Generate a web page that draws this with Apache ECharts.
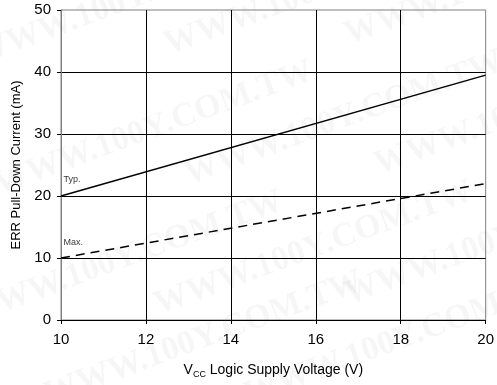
<!DOCTYPE html>
<html><head><meta charset="utf-8">
<script src="https://cdn.jsdelivr.net/npm/echarts@6/dist/echarts.min.js"></script>
<style>html,body{margin:0;padding:0;background:#fff}#c{width:497px;height:385px}</style>
</head><body><div id="c"></div>
<script>
const vcc = [10, 20];
const typCurrent = [20, 39.5];
const maxCurrent = [10, 22];
const xTicks = [10, 12, 14, 16, 18, 20];
const yTicks = [0, 10, 20, 30, 40, 50];
const curveLabels = ['Typ.', 'Max.'];

const chart = echarts.init(document.getElementById('c'), null, {renderer: 'canvas'});
const font = 'Liberation Sans, Arial, sans-serif';
const wm = [];
const wmPos = [[-30,40],[160,30],[340,20],[-10,170],[180,160],[370,150],[-40,300],[150,290],[340,280],[40,380],[240,380]];
wmPos.forEach(p => wm.push({type:'text', x:p[0], y:p[1], rotation: 0.35, silent:true, z:-1,
  style:{text:'WWW.100Y.COM.TW', fill:'rgba(0,0,0,0.035)', font:'bold 34px "Liberation Serif", serif'}}));

function labelPoint(x, y, text, dy) {
  return {type: 'scatter', data: [[x, y]], symbol: 'circle', symbolSize: 1,
    itemStyle: {color: 'rgba(0,0,0,0)'}, silent: true, z: 6,
    label: {show: true, formatter: text, position: 'right', offset: [0, dy], distance: 2,
      fontSize: 9, fontFamily: font, color: '#000'}};
}

chart.setOption({
  animation: false,
  backgroundColor: '#fff',
  graphic: wm,
  grid: {left: 61, right: 8, top: 10, bottom: 65, show: true, borderColor: '#808080', borderWidth: 1},
  xAxis: {
    type: 'value', min: 10, max: 20, interval: 2,
    axisLine: {lineStyle: {color: '#000', width: 1}},
    axisTick: {show: true, length: 4, lineStyle: {color: '#000'}},
    axisLabel: {color: '#000', fontSize: 15, fontFamily: font, margin: 12,
      formatter: v => xTicks.includes(v) ? String(v) : ''},
    splitLine: {show: true, showMinLine: false, showMaxLine: false, lineStyle: {color: '#000', width: 1}},
    name: '{a|V}{b|CC}{a| Logic Supply Voltage (V)}',
    nameLocation: 'middle', nameGap: 42,
    nameTextStyle: {rich: {
      a: {fontSize: 14, fontFamily: font, color: '#000'},
      b: {fontSize: 9, fontFamily: font, color: '#000', padding: [8, 0, 0, 0]}
    }}
  },
  yAxis: {
    type: 'value', min: 0, max: 50, interval: 10,
    axisLine: {show: true, lineStyle: {color: '#808080', width: 1}},
    axisTick: {show: true, length: 4, lineStyle: {color: '#000'}},
    axisLabel: {color: '#000', fontSize: 15, fontFamily: font, margin: 10,
      formatter: v => yTicks.includes(v) ? String(v) : ''},
    splitLine: {show: true, showMinLine: false, showMaxLine: false, lineStyle: {color: '#000', width: 1}},
    name: 'ERR Pull-Down Current (mA)',
    nameLocation: 'middle', nameGap: 37,
    nameTextStyle: {fontSize: 13, fontFamily: font, color: '#000'}
  },
  series: [
    {type: 'line', name: 'Typ.', data: vcc.map((x, i) => [x, typCurrent[i]]), symbol: 'none',
      lineStyle: {color: '#000', width: 1.5}, z: 5},
    {type: 'line', name: 'Max.', data: vcc.map((x, i) => [x, maxCurrent[i]]), symbol: 'none',
      lineStyle: {color: '#000', width: 1.5, type: [9, 6]}, z: 5},
    labelPoint(vcc[0], typCurrent[0], curveLabels[0], -16),
    labelPoint(vcc[0], maxCurrent[0], curveLabels[1], -15)
  ]
});
</script></body></html>
